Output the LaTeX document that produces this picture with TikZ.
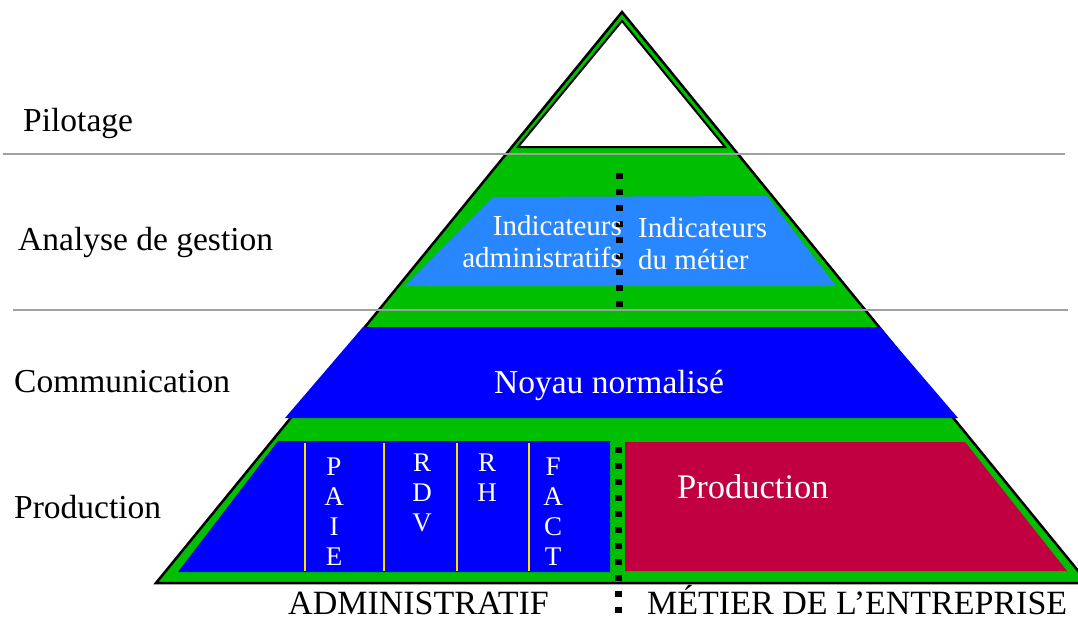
\documentclass[tikz,border=0pt]{standalone}
\usepackage{fontspec}
\setmainfont{Liberation Serif}
\definecolor{pyrgreen}{RGB}{0,190,0}
\definecolor{indblue}{RGB}{40,135,255}
\definecolor{coreblue}{RGB}{0,0,255}
\definecolor{prodred}{RGB}{192,0,64}
\definecolor{colyellow}{RGB}{255,225,0}
\definecolor{rulegray}{RGB}{160,160,160}

\begin{document}
\begin{tikzpicture}[x=1pt,y=-1pt, every node/.style={inner sep=0pt, font=\fontsize{33.5}{40}\selectfont},
    tier/.style={anchor=base west},
    onfill/.style={text=white},
    letters/.style={text=white, align=center, font=\fontsize{27}{30}\selectfont},
    indic/.style={text=white, font=\fontsize{29}{31.5}\selectfont},
    divider/.style={line width=7pt, dash pattern=on 6pt off 10pt},
    gridline/.style={rulegray, line width=2pt}]
    \clip (0,0) rectangle (1078,619);
    % pyramid and its bands
    \draw[fill=pyrgreen, line width=2.5pt] (622,12) -- (1088,583) -- (156,583) -- cycle;
    \draw[fill=white, line width=2pt] (622,21) -- (725,147) -- (518,147) -- cycle;
    \fill[indblue] (493,197) -- (767,196) -- (836,286) -- (405,286) -- cycle;
    \fill[coreblue] (363,327) -- (880,327) -- (958,418) -- (285,418) -- cycle;
    \fill[coreblue] (278,441) -- (610,441) -- (610,572) -- (178,572) -- cycle;
    \fill[prodred] (625,442) -- (965,442) -- (1067,571) -- (625,571) -- cycle;
    \draw[colyellow, line width=1.5pt] (305,443) -- (305,571);
    \draw[colyellow, line width=1.5pt] (384,443) -- (384,571);
    \draw[colyellow, line width=1.5pt] (457,443) -- (457,571);
    \draw[colyellow, line width=1.5pt] (529,443) -- (529,571);
    \draw[divider] (619,173) -- (619,309);
    \draw[divider] (618,447) -- (618,615);
    \draw[gridline] (3,154) -- (1065,154);
    \draw[gridline] (13,310) -- (1068,310);
    % levels
    \node[tier] (pilot) at (23,131) {Pilotage};
    \node[tier] (analyse) at (18,250) {Analyse de gestion};
    \node[tier] (comm) at (14,392) {Communication};
    \node[tier] (prodlvl) at (14,518) {Production};
    % inside the pyramid
    \node[indic, align=right, anchor=east] (indadm) at (622,241.5) {Indicateurs\\administratifs};
    \node[indic, align=left, anchor=west] (indmet) at (638,243.5) {Indicateurs\\du métier};
    \node[onfill, anchor=base] (noyau) at (609,393) {Noyau normalisé};
    \node[letters] (paie) at (334,512) {P\\A\\I\\E};
    \node[letters] (rdv) at (422,493) {R\\D\\V};
    \node[letters] (rh) at (487,478) {R\\H};
    \node[letters] (fact) at (553,512) {F\\A\\C\\T};
    \node[onfill, anchor=base west, font=\fontsize{34.5}{40}\selectfont] (prodmet) at (677,498) {Production};
    % bottom captions
    \node[tier, font=\fontsize{34}{38}\selectfont] (admin) at (288,614) {ADMINISTRATIF};
    \node[tier, font=\fontsize{34}{38}\selectfont] (metier) at (647,614) {MÉTIER DE L’ENTREPRISE};
\end{tikzpicture}
\end{document}
